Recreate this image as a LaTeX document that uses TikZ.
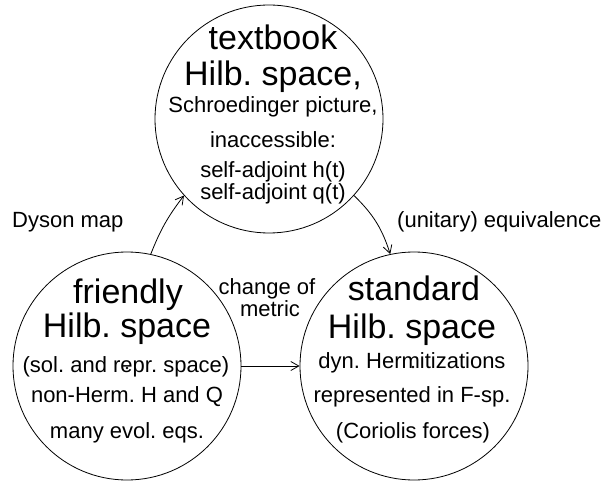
\documentclass[tikz,border=0pt]{standalone}
\usepackage{fontspec}
\setmainfont{Liberation Sans}
\frenchspacing
\usetikzlibrary{arrows.meta}
\tikzset{
  bubble/.style={circle, draw, line width=0.8pt, inner sep=0pt, minimum size=228pt},
  titletext/.style={anchor=base, inner sep=0pt, font=\fontsize{34}{40}\selectfont},
  smalltext/.style={anchor=base, inner sep=0pt, font=\fontsize{22}{26}\selectfont},
  labeltext/.style={anchor=base west, inner sep=0pt, font=\fontsize{22}{26}\selectfont},
  link/.style={line width=0.8pt, -{Straight Barb[length=8pt,width=9pt,line width=0.8pt]}},
  centerdot/.style={circle, fill, inner sep=0pt, minimum size=2.6pt}
}
\begin{document}
\begin{tikzpicture}[x=1pt,y=1pt]
\useasboundingbox (0,0) rectangle (602,485);
% circles
\node[bubble] (top) at (269,366) {};
\node[bubble] (friendly) at (127,119) {};
\node[bubble] (standard) at (414,119) {};
\node[centerdot] (fdot) at (127,117) {};
\node[centerdot] (sdot) at (413,118) {};
% top circle text
\node[titletext] (t1) at (273,435) {textbook};
\node[titletext] (t2) at (273,399) {Hilb. space,};
\node[smalltext] (t3) at (273,372) {Schroedinger picture,};
\node[smalltext] (t4) at (273,337) {inaccessible:};
\node[smalltext] (t5) at (273,307) {self-adjoint h(t)};
\node[smalltext] (t6) at (273,285) {self-adjoint q(t)};
% friendly circle text
\node[titletext] (f1) at (128,182) {friendly};
\node[titletext] (f2) at (127,148) {Hilb. space};
\node[smalltext] (f3) at (126,113) {(sol. and repr. space)};
\node[smalltext] (f4) at (127,83) {non-Herm. H and Q};
\node[smalltext] (f5) at (127,47) {many evol. eqs.};
% standard circle text
\node[titletext] (s1) at (414,185) {standard};
\node[titletext] (s2) at (412,147) {Hilb. space};
\node[smalltext] (s3) at (412,117) {dyn. Hermitizations};
\node[smalltext] (s4) at (412,83) {represented in F-sp.};
\node[smalltext] (s5) at (413,47) {(Coriolis forces)};
% labels
\node[labeltext] (ldyson) at (12,257) {Dyson map};
\node[labeltext] (lequiv) at (397,257) {(unitary) equivalence};
\node[smalltext] (lchange) at (267,190) {change of};
\node[smalltext] (lmetric) at (270,168) {metric};
% connectors
\draw[link] (friendly.78.5) to[bend left=8] (top.222.9);
\draw[link] (top.-42.2) to[bend left=14] (standard.102);
\draw[link] (friendly.east) -- (standard.west);
\end{tikzpicture}
\end{document}
